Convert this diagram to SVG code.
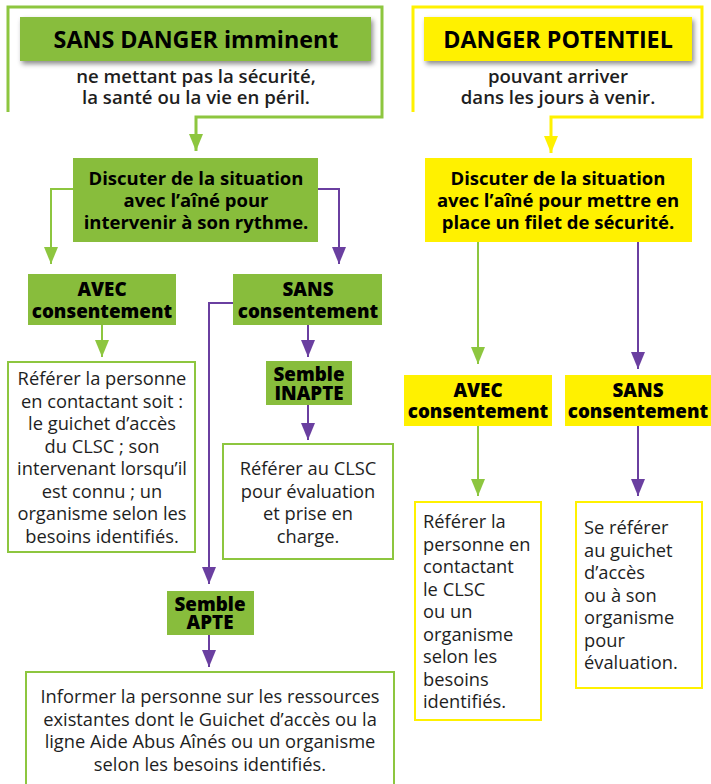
<svg xmlns="http://www.w3.org/2000/svg" width="711" height="784" viewBox="0 0 711 784">
<defs>
<style>
.gfill{fill:#88bd3c}
.yfill{fill:#fff100}
.gbox{fill:#ffffff;stroke:#8dc63f;stroke-width:2}
.ybox{fill:#ffffff;stroke:#fff100;stroke-width:2}
.gline{fill:none;stroke:#8dc63f;stroke-width:2}
.pline{fill:none;stroke:#6a3fa0;stroke-width:2}
.gframe{fill:none;stroke:#8dc63f;stroke-width:3}
.yframe{fill:none;stroke:#fff100;stroke-width:3}
text{font-family:"Open Sans","Noto Sans","Liberation Sans",sans-serif;fill:#1e1e1e}
.title{font-size:23.3px;font-weight:700;text-anchor:middle;fill:#000}
.sub{font-size:18.6px;font-weight:600;text-anchor:middle}
.disc{font-size:18.5px;font-weight:700;text-anchor:middle;fill:#000}
.lab{font-size:18.8px;font-weight:800;text-anchor:middle;fill:#000}
.body{font-size:18.3px;font-weight:400;text-anchor:middle}
.bodyl{font-size:18.3px;font-weight:400}
</style>
<filter id="shadow" x="-10%" y="-30%" width="125%" height="170%">
<feDropShadow dx="2" dy="3" stdDeviation="2.5" flood-color="#000" flood-opacity="0.45"/>
</filter>
<marker id="ag" markerUnits="userSpaceOnUse" markerWidth="17" markerHeight="14" refX="17" refY="7" orient="auto"><path d="M0,0 L17,7 L0,14 z" fill="#8dc63f"/></marker>
<marker id="ap" markerUnits="userSpaceOnUse" markerWidth="17" markerHeight="14" refX="17" refY="7" orient="auto"><path d="M0,0 L17,7 L0,14 z" fill="#6a3fa0"/></marker>
<marker id="ay" markerUnits="userSpaceOnUse" markerWidth="17" markerHeight="14" refX="17" refY="7" orient="auto"><path d="M0,0 L17,7 L0,14 z" fill="#fff100"/></marker>
</defs>

<g id="connectors">
<path class="gframe" d="M8,112 L8,7 L382,7 L382,117 L196,117 L196,151" marker-end="url(#ag)"/>
<path class="yframe" d="M413,112 L413,7 L702,7 L702,117 L551,117 L551,153" marker-end="url(#ay)"/>
<path class="gline" d="M73,189 L51,189 L51,264" marker-end="url(#ag)"/>
<path class="pline" d="M318,189 L339,189 L339,264" marker-end="url(#ap)"/>
<path class="gline" d="M102,325 L102,357" marker-end="url(#ag)"/>
<path class="pline" d="M233,303 L209,303 L209,584" marker-end="url(#ap)"/>
<path class="pline" d="M308,325 L308,357" marker-end="url(#ap)"/>
<path class="pline" d="M308,405 L308,440" marker-end="url(#ap)"/>
<path class="pline" d="M209,635 L209,667" marker-end="url(#ap)"/>
<path class="gline" d="M478,242 L478,364" marker-end="url(#ag)"/>
<path class="pline" d="M638,242 L638,369" marker-end="url(#ap)"/>
<path class="gline" d="M478,426 L478,496" marker-end="url(#ag)"/>
<path class="pline" d="M638,426 L638,496" marker-end="url(#ap)"/>
</g>

<g id="sans-danger-title">
<rect class="gfill" x="20" y="17" width="351" height="44" filter="url(#shadow)"/>
<text class="title" x="196" y="48">SANS DANGER imminent</text>
</g>
<g id="sans-danger-sub">
<text class="sub" x="196" y="83">ne mettant pas la sécurité,</text>
<text class="sub" x="196" y="104">la santé ou la vie en péril.</text>
</g>

<g id="danger-title">
<rect class="yfill" x="424" y="17" width="268" height="44" filter="url(#shadow)"/>
<text class="title" x="558" y="48">DANGER POTENTIEL</text>
</g>
<g id="danger-sub">
<text class="sub" x="558" y="83">pouvant arriver</text>
<text class="sub" x="558" y="104">dans les jours à venir.</text>
</g>

<g id="discuter-left">
<rect class="gfill" x="73" y="158" width="245" height="84"/>
<text class="disc" x="196" y="185">Discuter de la situation</text>
<text class="disc" x="196" y="207">avec l’aîné pour</text>
<text class="disc" x="196" y="229">intervenir à son rythme.</text>
</g>

<g id="discuter-right">
<rect class="yfill" x="425" y="158" width="267" height="84"/>
<text class="disc" x="558" y="185">Discuter de la situation</text>
<text class="disc" x="558" y="207">avec l’aîné pour mettre en</text>
<text class="disc" x="558" y="229">place un filet de sécurité.</text>
</g>

<g id="avec-left">
<rect class="gfill" x="28" y="274" width="148" height="51"/>
<text class="lab" x="102" y="296">AVEC</text>
<text class="lab" x="102" y="318">consentement</text>
</g>

<g id="sans-left">
<rect class="gfill" x="233" y="274" width="149" height="51"/>
<text class="lab" x="308" y="296">SANS</text>
<text class="lab" x="308" y="318">consentement</text>
</g>

<g id="referer-personne">
<rect class="gbox" x="8" y="362" width="187" height="190"/>
<text class="body" x="102" y="385">Référer la personne</text>
<text class="body" x="102" y="407.5">en contactant soit :</text>
<text class="body" x="102" y="430">le guichet d’accès</text>
<text class="body" x="102" y="452.5">du CLSC ; son</text>
<text class="body" x="102" y="475">intervenant lorsqu’il</text>
<text class="body" x="102" y="497.5">est connu ; un</text>
<text class="body" x="102" y="520">organisme selon les</text>
<text class="body" x="102" y="542.5">besoins identifiés.</text>
</g>

<g id="semble-inapte">
<rect class="gfill" x="266" y="361" width="86" height="44"/>
<text class="lab" x="309" y="381">Semble</text>
<text class="lab" x="309" y="400">INAPTE</text>
</g>

<g id="referer-clsc">
<rect class="gbox" x="223" y="444" width="170" height="115"/>
<text class="body" x="308" y="475">Référer au CLSC</text>
<text class="body" x="308" y="497.5">pour évaluation</text>
<text class="body" x="308" y="520">et prise en</text>
<text class="body" x="308" y="542.5">charge.</text>
</g>

<g id="semble-apte">
<rect class="gfill" x="167" y="591" width="87" height="44"/>
<text class="lab" x="210" y="611">Semble</text>
<text class="lab" x="210" y="629">APTE</text>
</g>

<g id="informer">
<rect class="gbox" x="26" y="672" width="368" height="120"/>
<text class="body" x="210" y="703">Informer la personne sur les ressources</text>
<text class="body" x="210" y="725.5">existantes dont le Guichet d’accès ou la</text>
<text class="body" x="210" y="748">ligne Aide Abus Aînés ou un organisme</text>
<text class="body" x="210" y="770.5">selon les besoins identifiés.</text>
</g>

<g id="avec-right">
<rect class="yfill" x="404" y="375" width="148" height="51"/>
<text class="lab" x="478" y="397">AVEC</text>
<text class="lab" x="478" y="418">consentement</text>
</g>

<g id="sans-right">
<rect class="yfill" x="565" y="375" width="146" height="51"/>
<text class="lab" x="638" y="397">SANS</text>
<text class="lab" x="638" y="418">consentement</text>
</g>

<g id="referer-right">
<rect class="ybox" x="415" y="502" width="126" height="218"/>
<text class="bodyl" x="423" y="528">Référer la</text>
<text class="bodyl" x="423" y="550.5">personne en</text>
<text class="bodyl" x="423" y="573">contactant</text>
<text class="bodyl" x="423" y="595.5">le CLSC</text>
<text class="bodyl" x="423" y="618">ou un</text>
<text class="bodyl" x="423" y="640.5">organisme</text>
<text class="bodyl" x="423" y="663">selon les</text>
<text class="bodyl" x="423" y="685.5">besoins</text>
<text class="bodyl" x="423" y="708">identifiés.</text>
</g>

<g id="se-referer">
<rect class="ybox" x="576" y="502" width="126" height="186"/>
<text class="bodyl" x="584" y="534">Se référer</text>
<text class="bodyl" x="584" y="556.5">au guichet</text>
<text class="bodyl" x="584" y="579">d’accès</text>
<text class="bodyl" x="584" y="601.5">ou à son</text>
<text class="bodyl" x="584" y="624">organisme</text>
<text class="bodyl" x="584" y="646.5">pour</text>
<text class="bodyl" x="584" y="669">évaluation.</text>
</g>
</svg>
